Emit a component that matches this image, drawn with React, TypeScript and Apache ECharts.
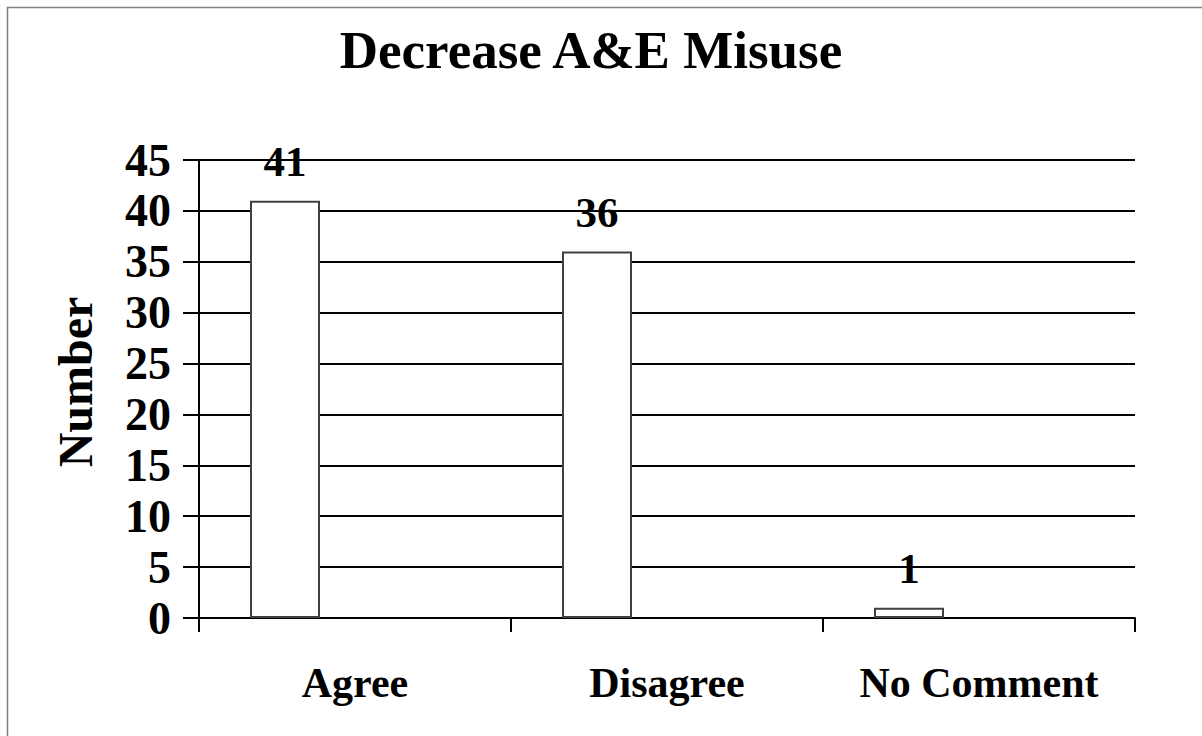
import React, { useEffect, useRef } from "react";
import * as echarts from "echarts";

const categories = ["Agree", "Disagree", "No Comment"];
const values = [41, 36, 1];
const emptySeries: (number | null)[] = [null, null, null];
const titleText = "Decrease A&E Misuse";
const yAxisName = "Number";

const FONT = "'Liberation Serif', 'Times New Roman', serif";

export default function App() {
  const ref = useRef<HTMLDivElement>(null);
  useEffect(() => {
    if (!ref.current) return;
    const chart = echarts.init(ref.current, null, { renderer: "svg" });
    chart.setOption({
      animation: false,
      backgroundColor: "#ffffff",
      graphic: [
        {
          type: "rect",
          shape: { x: 7.5, y: 7.5, width: 1300, height: 900 },
          style: { fill: "none", stroke: "#808080", lineWidth: 1.5 },
          silent: true,
        },
      ],
      title: {
        text: titleText,
        left: 586,
        top: 18,
        textAlign: "center",
        textStyle: { fontFamily: FONT, fontWeight: "bold", fontSize: 53, color: "#000" },
      },
      grid: { left: 199, right: 67, top: 160, bottom: 118, containLabel: false },
      xAxis: {
        type: "category",
        data: categories,
        boundaryGap: true,
        axisLine: { lineStyle: { color: "#000", width: 2 } },
        axisTick: { show: true, length: 14, lineStyle: { color: "#000", width: 2 } },
        axisLabel: {
          fontFamily: FONT,
          fontWeight: "bold",
          fontSize: 42,
          color: "#000",
          margin: 44,
        },
      },
      yAxis: {
        type: "value",
        min: 0,
        max: 45,
        interval: 5,
        name: yAxisName,
        nameLocation: "middle",
        nameGap: 100,
        nameTextStyle: {
          fontFamily: FONT,
          fontWeight: "bold",
          fontSize: 48,
          color: "#000",
          padding: [0, 0, 0, 14],
        },
        axisLine: { show: true, lineStyle: { color: "#000", width: 2 } },
        axisTick: { show: true, length: 16, lineStyle: { color: "#000", width: 2 } },
        splitLine: { show: true, lineStyle: { color: "#000", width: 2 } },
        axisLabel: {
          fontFamily: FONT,
          fontWeight: "bold",
          fontSize: 46,
          color: "#000",
          margin: 28,
        },
      },
      series: [
        {
          type: "bar",
          data: values,
          barWidth: 70,
          barGap: "0%",
          itemStyle: { color: "#ffffff", borderColor: "#404040", borderWidth: 2 },
          label: {
            show: true,
            position: "top",
            distance: 18,
            fontFamily: FONT,
            fontWeight: "bold",
            fontSize: 43,
            color: "#000",
          },
        },
        { type: "bar", data: emptySeries, barWidth: 70, barGap: "0%" },
        { type: "bar", data: emptySeries, barWidth: 70, barGap: "0%" },
      ],
    });
    return () => chart.dispose();
  }, []);
  return <div ref={ref} style={{ width: 1202, height: 736, position: "absolute", left: 0, top: 0 }} />;
}
